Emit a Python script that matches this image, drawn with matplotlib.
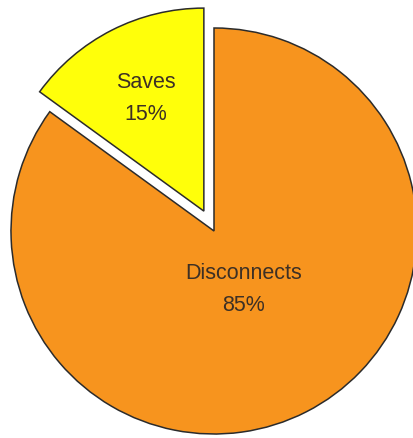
import matplotlib.pyplot as plt
import numpy as np

labels = ['Saves', 'Disconnects']
shares = [15, 85]
colors = ['#FFFF0A', '#F7941E']
explode = [0.11, 0.0]
text_dist = [0.63, 0.32]

plt.rcParams['font.family'] = ['Liberation Sans', 'DejaVu Sans']

fig = plt.figure(figsize=(4.14, 4.39), dpi=100)
ax = fig.add_axes([0, 0, 1, 1])

wedges, _ = ax.pie(shares, colors=colors, explode=explode, startangle=90,
                   counterclock=True,
                   wedgeprops=dict(edgecolor='#2b2b2b', linewidth=1.1))

for w, lab, val, d in zip(wedges, labels, shares, text_dist):
    ang = np.deg2rad((w.theta1 + w.theta2) / 2)
    cx, cy = w.center
    x = cx + d * w.r * np.cos(ang)
    y = cy + d * w.r * np.sin(ang)
    ax.text(x, y, f'{lab}\n{val}%', ha='center', va='center', fontsize=15.5,
            color='#3d3025', linespacing=1.7)

r_px = 203
ax.set_xlim(-214 / r_px, 200 / r_px)
ax.set_ylim(-207 / r_px, 232 / r_px)
ax.set_aspect('equal')
ax.axis('off')

fig.savefig('out.png', dpi=100, facecolor='white')
